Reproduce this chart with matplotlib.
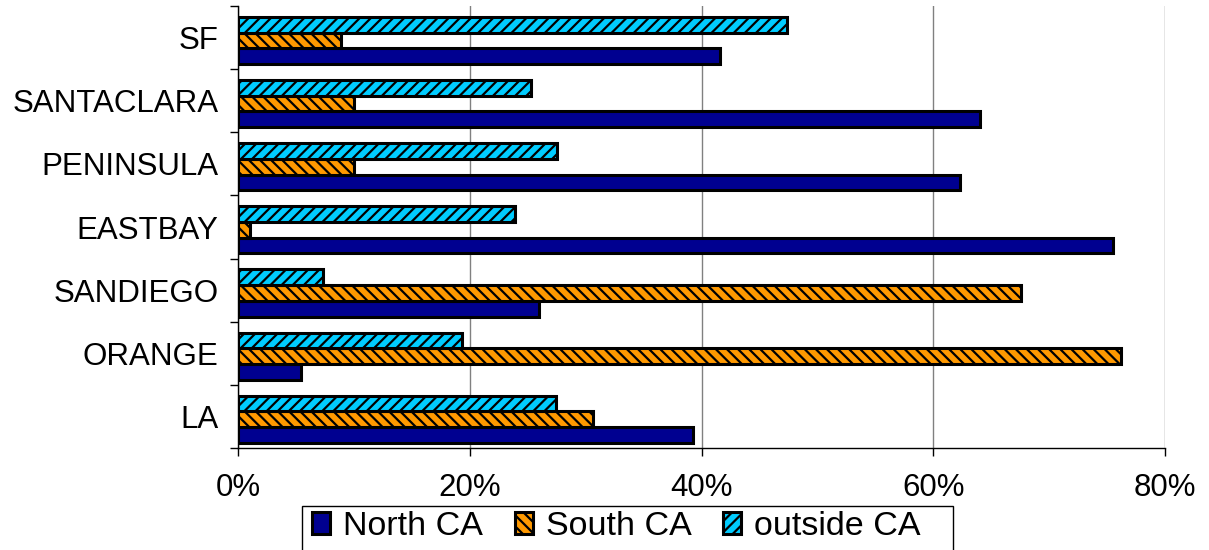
import matplotlib
matplotlib.use("Agg")
import matplotlib.pyplot as plt
from matplotlib.patches import Rectangle
import numpy as np

regions = ["LA", "ORANGE", "SANDIEGO", "EASTBAY", "PENINSULA", "SANTACLARA", "SF"]
north_ca = [39.3, 5.4, 26.0, 75.5, 62.3, 64.0, 41.6]
south_ca = [30.6, 76.2, 67.6, 1.0, 10.0, 10.0, 8.9]
outside_ca = [27.4, 19.3, 7.3, 23.9, 27.5, 25.3, 47.4]
series_names = ["North CA", "South CA", "outside CA"]
x_ticks = [0, 20, 40, 60, 80]

plt.rcParams["font.family"] = ["Liberation Sans", "DejaVu Sans"]
plt.rcParams["hatch.linewidth"] = 1.6
plt.rcParams["hatch.color"] = "black"

W, H = 1209, 550
fig = plt.figure(figsize=(W / 100, H / 100), dpi=100)
ax = fig.add_axes([0.1969, 0.1855, 0.9636 - 0.1969, 0.989 - 0.1855])

y = np.arange(len(regions)) - 0.045
h = 0.249
ax.barh(y - h, north_ca, height=h, color="#000090", edgecolor="black",
        linewidth=2.2, label=series_names[0], zorder=3)
ax.barh(y, south_ca, height=h, color="#FF9900", edgecolor="black",
        linewidth=2.2, hatch="\\\\\\", label=series_names[1], zorder=3)
ax.barh(y + h, outside_ca, height=h, color="#00CCFF", edgecolor="black",
        linewidth=2.2, hatch="///", label=series_names[2], zorder=3)

ax.set_xlim(0, 80)
ax.set_ylim(-0.5, len(regions) - 0.5)
ax.set_xticks(x_ticks)
ax.set_xticklabels([f"{v}%" for v in x_ticks])
ax.xaxis.grid(True, color="#808080", linewidth=1.0, zorder=0)

# group boundaries carry the tick marks, group centres carry the labels
ax.set_yticks(np.arange(-0.5, len(regions), 1.0))
ax.set_yticklabels([])
ax.set_yticks(np.arange(len(regions)), minor=True)
ax.set_yticklabels(regions, minor=True)
ax.tick_params(axis="y", which="minor", length=0, pad=14, labelsize=22.5)
ax.tick_params(axis="y", which="major", length=6, width=1, direction="out")
ax.tick_params(axis="x", length=6, width=1, direction="out", pad=12, labelsize=22.5)

for s in ("top", "right"):
    ax.spines[s].set_visible(False)
for s in ("left", "bottom"):
    ax.spines[s].set_color("black")
    ax.spines[s].set_linewidth(1.0)

# legend box outline, running off the bottom edge of the figure
fig.add_artist(Rectangle((302 / W, -0.01), (953 - 302) / W, 0.01 + 44 / H,
                         transform=fig.transFigure, fill=False,
                         edgecolor="black", linewidth=1.0))
fig.legend(loc="upper left", bbox_to_anchor=(307 / W, 1 - 506 / H),
           ncol=3, fontsize=24.5, frameon=False,
           handlelength=0.53, handleheight=0.62,
           handletextpad=0.38, columnspacing=0.93, borderpad=0.15,
           borderaxespad=0.0)

fig.savefig("out.png", dpi=100)
